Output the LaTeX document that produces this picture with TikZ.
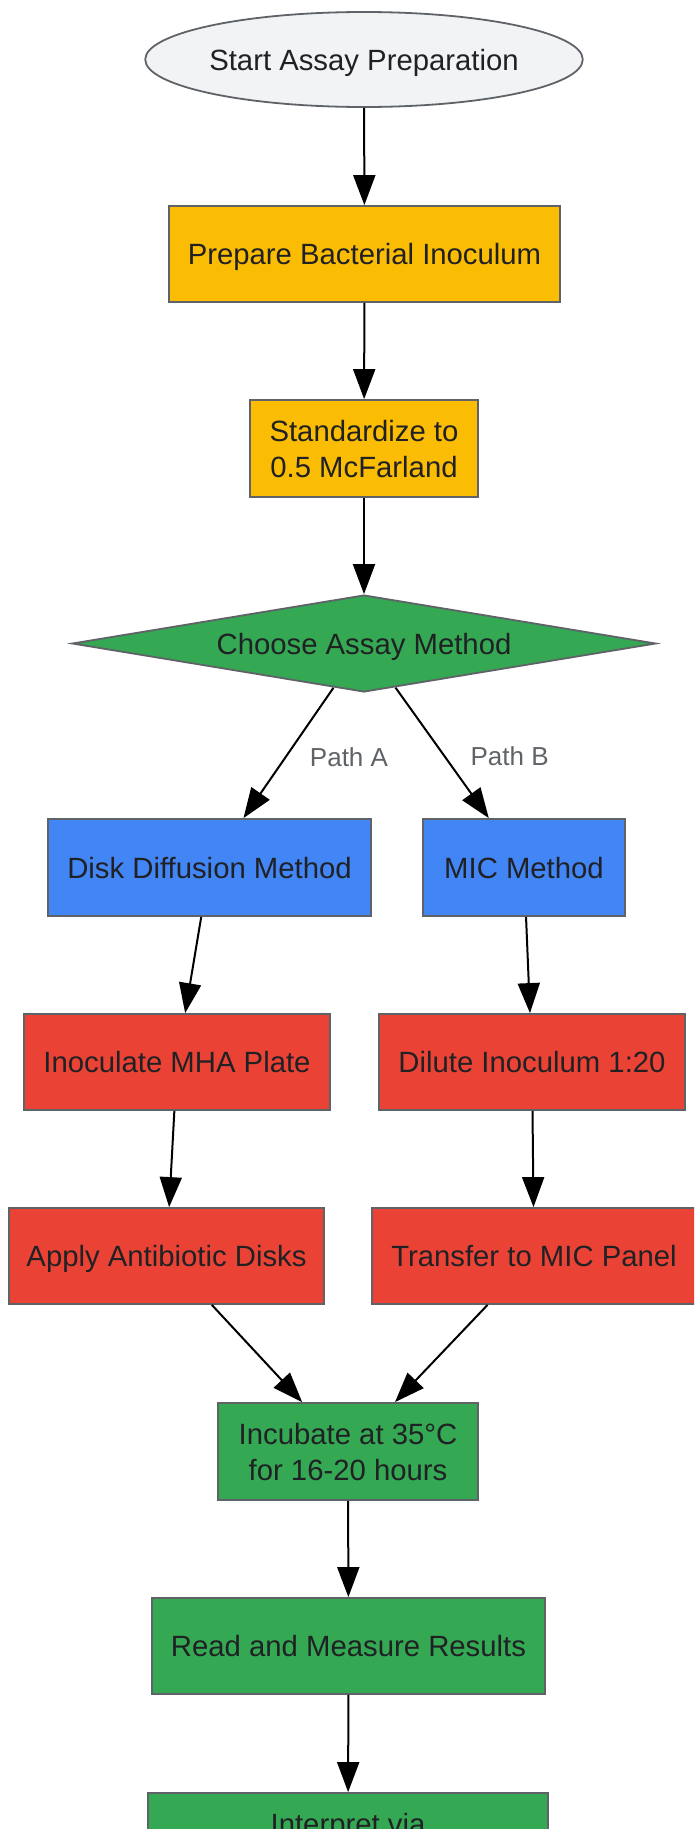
\documentclass[tikz,border=0pt]{standalone}
\usepackage{fontspec}
\setmainfont{Liberation Sans}
\usetikzlibrary{shapes.geometric,arrows.meta}

\definecolor{startgray}{HTML}{F1F3F5}
\definecolor{edgegray}{HTML}{5F6368}
\definecolor{inkgray}{HTML}{202124}
\definecolor{lblgray}{HTML}{5F6368}
\definecolor{prepyellow}{HTML}{FBBC04}
\definecolor{stepgreen}{HTML}{34A853}
\definecolor{methblue}{HTML}{4285F4}
\definecolor{workred}{HTML}{EA4335}

\begin{document}
\begin{tikzpicture}[x=1pt,y=-1pt,
  box/.style={draw=edgegray,line width=1.8pt,text=inkgray,align=center,
    font=\fontsize{29.3}{36}\selectfont,minimum height=96pt,inner sep=0pt,
    text height=28pt,text depth=7pt},
  twoline/.style={text height=64pt,minimum height=97pt},
  flow/.style={line width=2pt,-{Triangle[length=30pt,width=22pt]}},
  pathlbl/.style={text=lblgray,font=\fontsize{26}{30}\selectfont}]
  \useasboundingbox (0,0) rectangle (694,1829);
  \clip (0,0) rectangle (694,1829);

  % preparation
  \node[box,ellipse,fill=startgray,minimum width=432pt,minimum height=95pt] (start) at (364,59.5) {Start Assay Preparation};
  \node[box,fill=prepyellow,minimum width=391pt] (prep) at (364.5,254) {Prepare Bacterial Inoculum};
  \node[box,twoline,fill=prepyellow,minimum width=228pt] (std) at (364,448.5) {Standardize to\\0.5 McFarland};
  \node[box,diamond,fill=stepgreen,aspect=6,minimum width=584pt,minimum height=97pt] (choose) at (364,643.5) {Choose Assay Method};

  % the two methods
  \node[box,fill=methblue,minimum width=323pt,minimum height=97pt] (disk) at (209.5,867.5) {Disk Diffusion Method};
  \node[box,fill=methblue,minimum width=202pt,minimum height=97pt] (mic) at (524,867.5) {MIC Method};
  \node[box,fill=workred,minimum width=306pt] (inoc) at (177,1062) {Inoculate MHA Plate};
  \node[box,fill=workred,minimum width=306pt] (dilute) at (532,1062) {Dilute Inoculum 1:20};
  \node[box,fill=workred,minimum width=315pt] (disks) at (166.5,1256) {Apply Antibiotic Disks};
  \node[box,fill=workred,minimum width=324pt] (panel) at (534,1256) {Transfer to MIC Panel};

  % common end
  \node[box,twoline,fill=stepgreen,minimum width=260pt] (incub) at (348,1451.5) {Incubate at 35°C\\for 16-20 hours};
  \node[box,fill=stepgreen,minimum width=393pt] (read) at (348.5,1646) {Read and Measure Results};
  \node[box,twoline,fill=stepgreen,minimum width=400pt] (interp) at (348,1841.5) {Interpret via\\\mbox{}};

  \draw[flow] (start) -- (prep);
  \draw[flow] (prep) -- (std);
  \draw[flow] (std) -- (choose);
  \draw[flow] (choose) -- node[pathlbl,xshift=60.5pt,yshift=-4pt] {Path A} (disk);
  \draw[flow] (choose) -- node[pathlbl,xshift=67.5pt,yshift=-3.5pt] {Path B} (mic);
  \draw[flow] (disk) -- (inoc);
  \draw[flow] (inoc) -- (disks);
  \draw[flow] (mic) -- (dilute);
  \draw[flow] (dilute) -- (panel);
  \draw[flow] (disks) -- (incub);
  \draw[flow] (panel) -- (incub);
  \draw[flow] (incub) -- (read);
  \draw[flow] (read) -- (interp);
\end{tikzpicture}
\end{document}
